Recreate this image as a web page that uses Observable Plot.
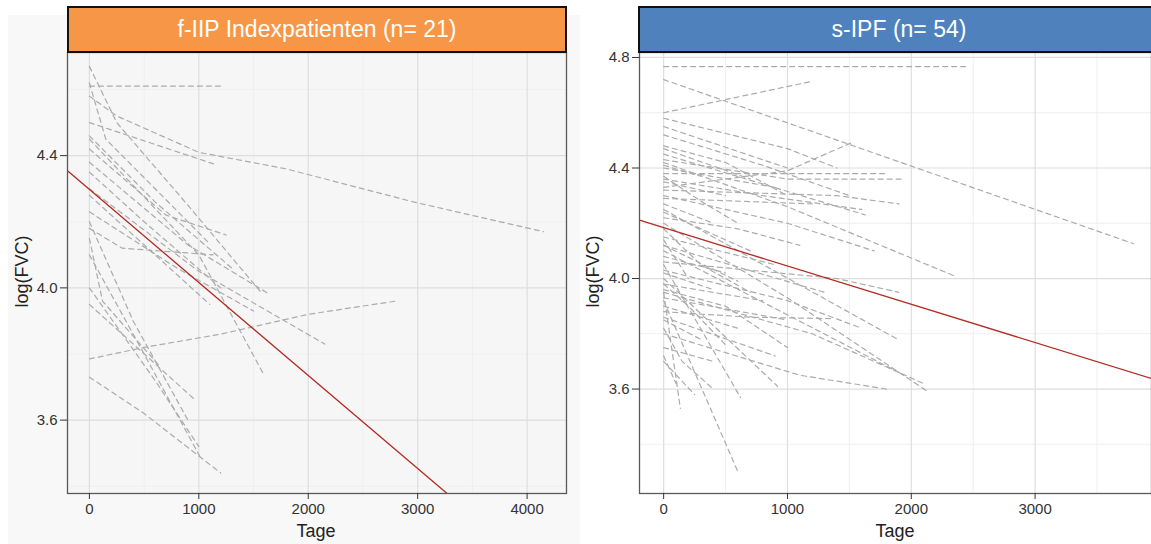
<!DOCTYPE html>
<html><head><meta charset="utf-8">
<script src="https://cdn.jsdelivr.net/npm/d3@7"></script>
<script src="https://cdn.jsdelivr.net/npm/@observablehq/plot@0.6"></script>
<style>
body{margin:0;background:#fff;width:1151px;height:544px;overflow:hidden;position:relative;font-family:"Liberation Sans",Arial,sans-serif}
#bgL{position:absolute;left:8px;top:15px;width:572px;height:529px;background:#f8f8f8}
.plot{position:absolute;top:0}
.plot svg text{font-size:15px !important;fill:#333 !important}
.strip{position:absolute;top:6px;height:47px;box-sizing:border-box;border:2px solid #111;color:#fff;font-size:23px;display:flex;align-items:center;justify-content:center;white-space:nowrap}
.xt{position:absolute;top:521px;width:120px;text-align:center;font-size:18px;color:#222}
.yt{position:absolute;width:120px;text-align:center;font-size:18px;color:#222;transform:rotate(-90deg);top:261px}
</style></head>
<body>
<div id="bgL"></div>
<div id="left" class="plot" style="left:0"></div>
<div id="right" class="plot" style="left:576px"></div>
<div class="strip" id="stripL" style="left:67px;width:500px;background:#f79646"></div>
<div class="strip" id="stripR" style="left:638px;width:522px;background:#4f81bd"></div>
<div class="xt" style="left:256px">Tage</div>
<div class="xt" style="left:835px">Tage</div>
<div class="yt" style="left:-38px">log(FVC)</div>
<div class="yt" style="left:533px">log(FVC)</div>
<script>
// ---- texts ----
const titleLeft = "f-IIP Indexpatienten (n= 21)";
const titleRight = "s-IPF (n= 54)";

// ---- left panel: per-patient trajectories [day, value, day, value, ...] ----
const leftLines = [
  [0,4.61, 1230,4.61],
  [0,4.58, 250,4.52, 1000,4.41, 1800,4.36, 2960,4.26, 4150,4.17],
  [0,4.50, 1135,4.375],
  [0,4.67, 250,4.50, 900,4.25, 1560,3.99],
  [0,4.62, 150,4.45, 1080,4.14],
  [0,4.46, 600,4.26, 1300,4.06],
  [0,4.42, 700,4.22, 1250,4.16],
  [0,4.38, 900,4.13, 1650,3.98],
  [0,4.30, 1000,4.05, 2150,3.83],
  [0,4.23, 800,4.06, 1500,3.93],
  [0,4.18, 300,4.12, 1130,4.10],
  [0,3.785, 500,3.82, 1200,3.86, 2000,3.92, 2800,3.96],
  [0,3.73, 500,3.62, 1200,3.44],
  [0,4.10, 500,3.80, 1010,3.49],
  [0,4.00, 600,3.72, 1000,3.52],
  [0,3.95, 970,3.66],
  [0,4.45, 1000,4.10, 1590,3.74],
  [0,4.20, 400,3.90, 900,3.60],
  [0,4.28, 1100,3.95],
  [0,4.15, 120,3.96, 650,3.76],
  [0,4.35, 500,4.20, 1200,4.00]
];
const leftFitDays = [-200, 4360];
const leftFitVals = [4.354, 3.071];
const leftXTicks = [0, 1000, 2000, 3000, 4000];
const leftYTicks = [3.6, 4.0, 4.4];
const leftXMinor = [500, 1500, 2500, 3500];
const leftYMinor = [3.4, 3.8, 4.2, 4.6];

// ---- right panel ----
const rightLines = [
  [0,4.767, 2470,4.767],
  [0,4.72, 3795,4.126],
  [0,4.60, 1190,4.713],
  [0,4.58, 1000,4.47, 1400,4.40],
  [0,4.55, 1000,4.40],
  [0,4.52, 800,4.41, 1500,4.30],
  [0,4.33, 1000,4.39, 1510,4.49],
  [0,4.38, 1800,4.38],
  [0,4.43, 1000,4.36, 1950,4.36],
  [0,4.45, 1630,4.23],
  [0,4.42, 1000,4.26, 2345,4.01],
  [0,4.25, 1890,3.78],
  [0,4.20, 1000,3.93, 2135,3.59],
  [0,4.10, 1900,3.66],
  [0,3.92, 600,3.30],
  [0,3.95, 135,3.53],
  [0,4.05, 620,3.57],
  [0,4.00, 920,3.61],
  [0,3.88, 700,3.86, 1350,3.855],
  [0,4.36, 800,4.30, 1600,4.25],
  [0,4.29, 1200,4.27],
  [0,4.40, 900,4.33],
  [0,4.47, 700,4.36],
  [0,4.35, 500,4.30],
  [0,4.30, 1000,4.20, 1700,4.10],
  [0,4.22, 600,4.18, 1100,4.12],
  [0,4.15, 900,4.05],
  [0,4.12, 1300,3.95],
  [0,4.08, 500,4.02],
  [0,4.03, 1000,3.92, 1600,3.82],
  [0,3.98, 800,3.92],
  [0,3.95, 1200,3.80, 2100,3.62],
  [0,3.90, 600,3.82],
  [0,3.85, 300,3.78],
  [0,3.80, 1100,3.65, 1800,3.60],
  [0,3.75, 400,3.70],
  [0,3.70, 250,3.58],
  [0,4.27, 400,4.20],
  [0,4.18, 300,4.05, 700,3.95],
  [0,4.02, 400,3.96],
  [0,3.93, 1000,3.85],
  [0,4.41, 300,4.37],
  [0,4.24, 700,4.10],
  [0,3.98, 200,3.90, 500,3.76],
  [0,4.12, 600,3.99],
  [0,3.86, 900,3.72],
  [0,4.06, 1400,4.00, 1900,3.95],
  [0,4.48, 500,4.42, 1000,4.30],
  [0,4.32, 1400,4.30, 1900,4.27],
  [0,3.82, 150,3.70, 400,3.60],
  [0,4.14, 200,4.00],
  [0,3.72, 100,3.62],
  [0,4.37, 300,4.28, 600,4.20],
  [0,3.96, 500,3.90, 1000,3.75]
];
const rightFitDays = [-195, 3940];
const rightFitVals = [4.211, 3.638];
const rightXTicks = [0, 1000, 2000, 3000];
const rightYTicks = [3.6, 4.0, 4.4, 4.8];
const rightXMinor = [500, 1500, 2500, 3500];
const rightYMinor = [3.4, 3.8, 4.2, 4.6];

function toPoints(lines) {
  const out = [];
  lines.forEach((arr, i) => { for (let k = 0; k < arr.length; k += 2) out.push({id: i, day: arr[k], val: arr[k + 1]}); });
  return out;
}

function panel(o) {
  const pts = toPoints(o.lines);
  const fit = o.fitDays.map((d, i) => ({day: d, val: o.fitVals[i]}));
  return Plot.plot({
    width: o.width, height: 544,
    marginTop: 52, marginBottom: 51, marginLeft: o.marginLeft, marginRight: o.marginRight,
    style: {background: "transparent", fontFamily: "Liberation Sans, Arial, sans-serif", fontSize: "15px", color: "#333"},
    x: {domain: o.xDomain},
    y: {domain: o.yDomain},
    marks: [
      Plot.frame({fill: o.panelBg, stroke: null}),
      Plot.ruleX(o.xMinor, {stroke: "#efefef", strokeWidth: 1}),
      Plot.ruleY(o.yMinor, {stroke: "#efefef", strokeWidth: 1}),
      Plot.ruleX(o.xTicks, {stroke: "#dedede", strokeWidth: 1.2}),
      Plot.ruleY(o.yTicks, {stroke: "#dedede", strokeWidth: 1.2}),
      Plot.line(pts, {x: "day", y: "val", z: "id", stroke: "#ababab", strokeWidth: 1.2, strokeDasharray: "5,4", clip: true}),
      Plot.line(fit, {x: "day", y: "val", stroke: "#b22a22", strokeWidth: 1.3, clip: true}),
      Plot.frame({stroke: "#5a5a5a", strokeWidth: 1.3}),
      Plot.axisX(o.xTicks, {tickSize: 6, tickPadding: 4, tickFormat: d => String(d), label: null, stroke: "#333"}),
      Plot.axisY(o.yTicks, {tickSize: 7, tickPadding: 3, tickFormat: d => d.toFixed(1), label: null, stroke: "#333"})
    ]
  });
}

document.getElementById("stripL").textContent = titleLeft;
document.getElementById("stripR").textContent = titleRight;

document.getElementById("left").append(panel({
  lines: leftLines, fitDays: leftFitDays, fitVals: leftFitVals,
  xDomain: [-200, 4360], yDomain: [3.378, 4.712],
  xTicks: leftXTicks, yTicks: leftYTicks, xMinor: leftXMinor, yMinor: leftYMinor,
  width: 580, marginLeft: 67, marginRight: 14, panelBg: "#f6f6f6"
}));
document.getElementById("right").append(panel({
  lines: rightLines, fitDays: rightFitDays, fitVals: rightFitVals,
  xDomain: [-195, 3940], yDomain: [3.222, 4.818],
  xTicks: rightXTicks, yTicks: rightYTicks, xMinor: rightXMinor, yMinor: rightYMinor,
  width: 575, marginLeft: 63, marginRight: 0, panelBg: "#ffffff"
}));
</script>
</body></html>
